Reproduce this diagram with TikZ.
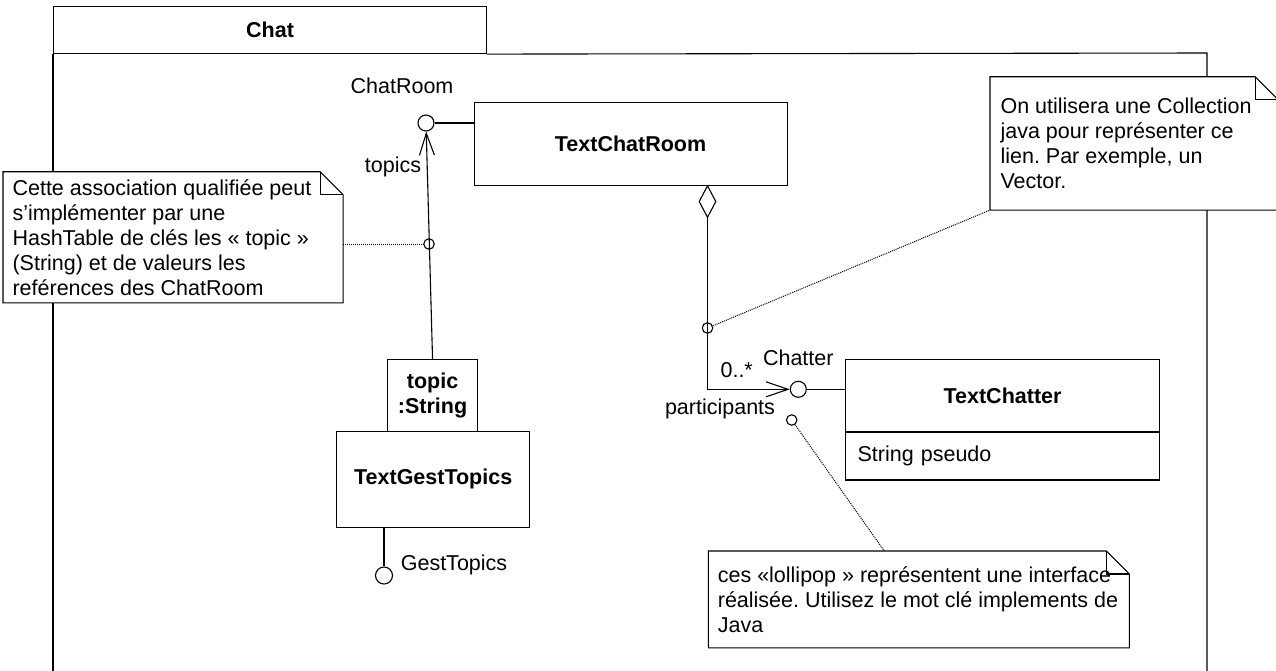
\documentclass[tikz,border=0pt]{standalone}
\usepackage{fontspec}
\setmainfont{Liberation Sans}
\usetikzlibrary{arrows.meta,shapes.geometric}
\frenchspacing

\newcommand{\dogear}[1]{%
  \filldraw[fill=white] (#1.north west) -- ([xshift=-23pt]#1.north east)
    -- ([yshift=-23pt]#1.north east) -- (#1.south east) -- (#1.south west) -- cycle;
  \draw ([xshift=-23pt]#1.north east) |- ([yshift=-23pt]#1.north east);}

\begin{document}
\begin{tikzpicture}[x=1pt, y=-1pt, line width=1.1pt,
  every node/.style={font=\fontsize{21.5}{25}\selectfont},
  classbox/.style={draw, rectangle, inner sep=0pt, align=center},
  lolli/.style={draw, circle, minimum size=16pt, inner sep=0pt},
  linkdot/.style={draw, circle, minimum size=10.5pt, inner sep=0pt},
  notebox/.style={rectangle, inner sep=0pt, anchor=north west},
  notetext/.style={align=left, inner sep=0pt, anchor=west},
  lbl/.style={inner sep=0pt, anchor=base},
  nav/.style={-{Straight Barb[length=22pt, width=15pt]}},
  notelink/.style={densely dotted, line width=1pt},
  aggdiamond/.style={draw, diamond, minimum width=17pt, minimum height=32pt, inner sep=0pt}]
\useasboundingbox (0,0) rectangle (1276,670);

% package
\node[classbox, minimum width=433pt, minimum height=47pt, anchor=north west] (chat) at (53,6) {\textbf{Chat}};
\draw (chat.south west) -- (53,675);
\draw (chat.south east) -- (1207,53) -- (1207,675);

% classes
\node[classbox, minimum width=313pt, minimum height=83.5pt, anchor=north west] (chatroom) at (473.5,101.5) {\textbf{TextChatRoom}};
\node[classbox, minimum width=89.4pt, minimum height=71.7pt, anchor=north west] (qualifier) at (387.3,359) {\textbf{topic}\\\textbf{:String}};
\node[classbox, minimum width=193.3pt, minimum height=96pt, anchor=north west] (gesttopics) at (336,430.7) {\textbf{TextGestTopics}};
\node[classbox, minimum width=314pt, minimum height=71.4pt, anchor=north west] (chatter) at (845,359.3) {\textbf{TextChatter}};
\node[classbox, minimum width=314pt, minimum height=47.6pt, text width=290pt, align=left, anchor=north] (chatterattr) at (chatter.south) {String pseudo};

% interfaces
\node[lolli] (chatroomif) at (426,123) {};
\node[lolli] (chatterif) at (798.3,389.3) {};
\node[lolli, minimum size=17pt] (gestif) at (384,575.5) {};

\node[aggdiamond, anchor=north] (agg) at (707.5,185) {};
\node[linkdot] (topicsdot) at (429,244) {};
\node[linkdot] (aggdot) at (707.5,328) {};
\node[linkdot] (partdot) at (791.7,420) {};

\draw (chatroomif) -- (chatroomif -| chatroom.west);
\draw[nav] (qualifier.north) -- (chatroomif);
\draw (gesttopics.south -| gestif) -- (gestif);
\draw[nav] (agg.south) |- (chatterif);
\draw (chatterif) -- (chatterif -| chatter.west);

\node[lbl] (chatroomlbl) at (402,93) {ChatRoom};
\node[lbl] (topicslbl) at (393,172) {topics};
\node[lbl] (multlbl) at (736.7,377) {0..*};
\node[lbl] (chatterlbl) at (798.3,365) {Chatter};
\node[lbl] (partlbl) at (720,414) {participants};
\node[lbl] (gestlbl) at (454,570) {GestTopics};

% notes
\node[notebox, minimum width=339pt, minimum height=130pt] (hashnote) at (3,171.7) {};
\dogear{hashnote}
\node[notetext] (hashtext) at ([xshift=9pt]hashnote.west) {Cette association qualifiée peut\\s’implémenter par une\\HashTable de clés les « topic »\\(String) et de valeurs les\\reférences des ChatRoom};

\node[notebox, minimum width=287pt, minimum height=132.3pt] (collnote) at (990,76.7) {};
\dogear{collnote}
\node[notetext] (colltext) at ([xshift=10pt]collnote.west) {On utilisera une Collection\\java pour représenter ce\\lien. Par exemple, un\\Vector.};

\node[notebox, minimum width=420pt, minimum height=95.7pt] (lollinote) at (708.3,551) {};
\dogear{lollinote}
\node[notetext] (lollitext) at ([xshift=9pt]lollinote.west) {ces «lollipop » représentent une interface\\réalisée. Utilisez le mot clé implements de\\Java};

\draw[notelink] (hashnote.east |- topicsdot) -- (topicsdot);
\draw[notelink] (aggdot) -- (collnote.south west);
\draw[notelink] (partdot) -- ([xshift=176pt]lollinote.north west);
\end{tikzpicture}
\end{document}
